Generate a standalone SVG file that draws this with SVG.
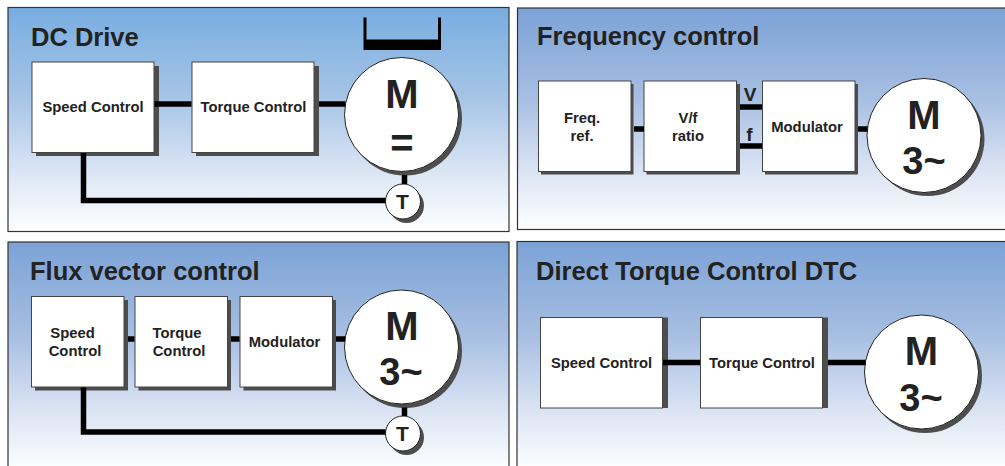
<svg xmlns="http://www.w3.org/2000/svg" width="1005" height="466" viewBox="0 0 1005 466">
<style>
text{font-family:"Liberation Sans",Arial,sans-serif;font-weight:bold;fill:#222}
.title{font-size:25.5px}
.lab{font-size:14.8px;text-anchor:middle}
.big{font-size:40px;text-anchor:middle}
.three{font-size:38px;text-anchor:middle}
.t{font-size:21px;text-anchor:middle}
.vf{font-size:19px;text-anchor:middle}
.panel{stroke:#333;stroke-width:1.2}
.box{fill:#fff;stroke:#444;stroke-width:1}
.sh{fill:#4d4d4d}
.c{fill:#fff;stroke:#222;stroke-width:1}
.w{fill:none;stroke:#000;stroke-width:5.500}
</style>
<defs>
<linearGradient id="g1" x1="0" y1="0" x2="0" y2="1"><stop offset="0" stop-color="#78ade0"/><stop offset=".4" stop-color="#a6c4e6"/><stop offset=".75" stop-color="#dde7f5"/><stop offset="1" stop-color="#fff"/></linearGradient>
<linearGradient id="g2" x1="0" y1="0" x2="0" y2="1"><stop offset="0" stop-color="#7ba2d6"/><stop offset=".4" stop-color="#a6bee2"/><stop offset=".75" stop-color="#dde5f4"/><stop offset="1" stop-color="#fff"/></linearGradient>
</defs>
<g id="panels">
<rect id="panel-dc" class="panel" x="8" y="7.500" width="501" height="224" fill="url(#g1)"/>
<rect id="panel-freq" class="panel" x="517.500" y="8" width="495" height="221.500" fill="url(#g2)"/>
<rect id="panel-flux" class="panel" x="8" y="242" width="501" height="230" fill="url(#g2)"/>
<rect id="panel-dtc" class="panel" x="517" y="241.500" width="495" height="230" fill="url(#g2)"/>
</g>
<g id="titles">
<text class="title" x="31" y="45.500">DC Drive</text>
<text class="title" x="537" y="45">Frequency control</text>
<text class="title" x="30" y="279.500">Flux vector control</text>
<text class="title" x="536" y="279.500">Direct Torque Control DTC</text>
</g>
<g id="dc-speed"><rect class="sh" x="36" y="66" width="123" height="90"/><rect class="box" x="32" y="62" width="122" height="90.500"/><text class="lab" x="93" y="112">Speed Control</text></g>
<g id="dc-torque"><rect class="sh" x="196" y="66" width="123" height="90"/><rect class="box" x="192" y="62" width="122" height="90.500"/><text class="lab" x="253.500" y="112">Torque Control</text></g>
<g id="dc-bracket"><path fill="#000" d="M363.500 17.500h3V39.500h71.500V17.500h3V50H363.500z"/></g>
<g id="dc-motor"><circle class="sh" cx="405" cy="118.500" r="57"/><circle class="c" cx="401.500" cy="114.500" r="57"/><text class="big" x="402" y="108">M</text><text class="big" x="402" y="157">=</text></g>
<g id="dc-tach"><circle class="sh" cx="406.500" cy="205.500" r="17.500"/><circle class="c" cx="403" cy="201.500" r="17.500"/><text class="t" x="402.500" y="209">T</text></g>

<g id="freq-ref"><rect class="sh" x="541" y="84" width="92.500" height="90.500"/><rect class="box" x="538.500" y="81" width="92.500" height="90.500"/><text class="lab" x="582" y="122.500">Freq.</text><text class="lab" x="582" y="141">ref.</text></g>
<g id="freq-vf"><rect class="sh" x="646.500" y="84" width="93.500" height="90.500"/><rect class="box" x="644" y="81" width="92.500" height="90.500"/><text class="lab" x="688" y="122.500">V/f</text><text class="lab" x="688" y="141">ratio</text></g>
<g id="freq-mod"><rect class="sh" x="765" y="84" width="93" height="90.500"/><rect class="box" x="762.500" y="81" width="92.500" height="90.500"/><text class="lab" x="807" y="131.500">Modulator</text></g>
<g id="freq-labels"><text class="vf" x="750" y="101">V</text><text class="vf" x="749.500" y="141">f</text></g>
<g id="freq-motor"><circle class="sh" cx="927.500" cy="139" r="57"/><circle class="c" cx="924" cy="135.500" r="57"/><text class="big" x="924" y="128.500">M</text><text class="three" x="924" y="174">3~</text></g>

<g id="flux-speed"><rect class="sh" x="35" y="300" width="93" height="90.500"/><rect class="box" x="31.500" y="296.500" width="92.500" height="90.500"/><text class="lab" x="72.500" y="338">Speed</text><text class="lab" x="75" y="356">Control</text></g>
<g id="flux-torque"><rect class="sh" x="138.500" y="300" width="92.500" height="90.500"/><rect class="box" x="135" y="296.500" width="92.500" height="90.500"/><text class="lab" x="177" y="338">Torque</text><text class="lab" x="179" y="356">Control</text></g>
<g id="flux-mod"><rect class="sh" x="243.500" y="300" width="92.500" height="90.500"/><rect class="box" x="240" y="296.500" width="92.500" height="90.500"/><text class="lab" x="284.500" y="346.500">Modulator</text></g>
<g id="flux-motor"><circle class="sh" cx="405" cy="351" r="57"/><circle class="c" cx="401.500" cy="347" r="57"/><text class="big" x="402" y="340">M</text><text class="three" x="401" y="385">3~</text></g>
<g id="flux-tach"><circle class="sh" cx="406.500" cy="437.500" r="17.500"/><circle class="c" cx="403" cy="433.500" r="17.500"/><text class="t" x="402.500" y="441">T</text></g>

<g id="dtc-speed"><rect class="sh" x="660" y="317.500" width="8" height="90.500"/><rect class="box" x="540.500" y="317.500" width="122" height="90.500"/><text class="lab" x="601.500" y="368">Speed Control</text></g>
<g id="dtc-torque"><rect class="sh" x="820" y="317.500" width="8" height="90.500"/><rect class="box" x="700.500" y="317.500" width="122" height="90.500"/><text class="lab" x="762" y="368">Torque Control</text></g>
<g id="dtc-motor"><circle class="sh" cx="925" cy="376" r="57"/><circle class="c" cx="921.500" cy="372" r="57"/><text class="big" x="921.500" y="365">M</text><text class="three" x="921" y="410.500">3~</text></g>

<g id="connectors">
<path class="w" d="M154.500 104H191.500M319 104H345.500M83.500 153V200.500H385.500M404.500 175V184"/>
<path class="w" d="M634 129H644M740 107H762M740 146H762M858 129H867.500"/>
<path class="w" d="M128 339H134.500M231 339H239.500M336 339H345M83.500 387.500V432H385.500M404.500 407.500V416"/>
<path class="w" d="M663 362.500H700M828 362.500H865.500"/>
</g>
</svg>
